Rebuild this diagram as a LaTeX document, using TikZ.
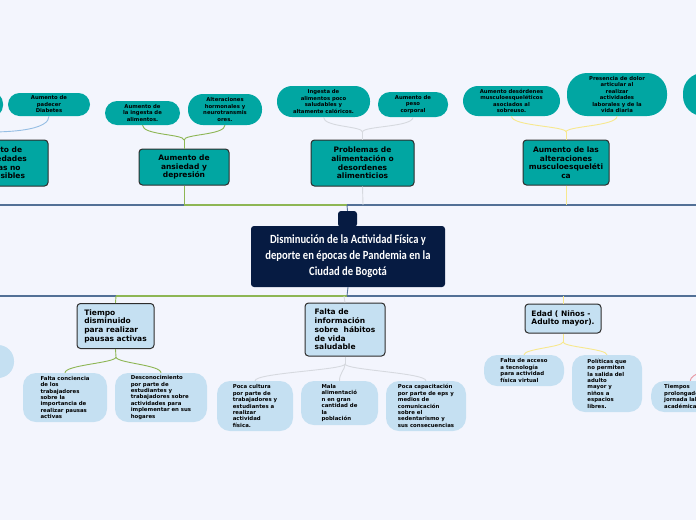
\documentclass[tikz,border=0pt]{standalone}
\usepackage{fontspec}
\newfontfamily\dv{DejaVu Sans}
\newfontfamily\cl[FakeStretch=0.85]{Carlito}
\definecolor{bgc}{RGB}{243,245,253}
\definecolor{teal1}{RGB}{1,166,162}
\definecolor{lblue}{RGB}{197,224,242}
\definecolor{navy}{RGB}{6,27,66}
\definecolor{boxline}{RGB}{45,45,45}
\definecolor{cgreen}{RGB}{141,182,84}
\definecolor{cblue}{RGB}{82,112,150}
\definecolor{cyellow}{RGB}{247,232,142}
\definecolor{cgrey}{RGB}{214,217,223}
\definecolor{clblue}{RGB}{150,190,228}
\definecolor{cpink}{RGB}{232,150,160}
\tikzset{
  tbox/.style={draw=boxline, line width=1pt, fill=teal1, rounded corners=3.5pt, align=center,
    font={\dv\bfseries\fontsize{7.5pt}{8.6pt}\selectfont}, inner sep=1pt},
  bbox/.style={draw=boxline, line width=1pt, fill=lblue, rounded corners=3.5pt, align=left,
    font={\dv\bfseries\fontsize{7.5pt}{8.7pt}\selectfont}, inner sep=1pt},
  tpill/.style={fill=teal1, align=center, font={\dv\bfseries\fontsize{5.3pt}{6.5pt}\selectfont}, inner sep=1pt},
  bpill/.style={fill=lblue, align=left, rounded corners=13pt, font={\dv\bfseries\fontsize{5.4pt}{6.4pt}\selectfont}, inner sep=1pt},
  conn/.style={line width=0.9pt},
  mainln/.style={line width=1.4pt},
}
\begin{document}
\begin{tikzpicture}[x=1pt,y=-1pt]
\useasboundingbox (0,0) rectangle (696,520);
\clip (0,0) rectangle (696,520);
\fill[bgc] (0,0) rectangle (696,520);

% main line coordinates
\coordinate (tL) at (0,205);
\coordinate (tA) at (184,205);
\coordinate (tP) at (363,205);
\coordinate (tC) at (347,205);
\coordinate (tM) at (566,205);
\coordinate (tR) at (696,205);
\coordinate (bL) at (0,296);
\coordinate (bT) at (116,296);
\coordinate (bC) at (347,296);
\coordinate (bF) at (344,296);
\coordinate (bE) at (563,296);
\coordinate (bR) at (696,296);

% ---------- top nodes ----------
\node[tbox, minimum width=103pt, minimum height=46pt] (L1) at (-3.5,163) {Aumento de\\enfermedades\\crónicas no\\transmisibles};
\node[tpill, rounded corners=11.5pt, minimum width=66pt, minimum height=25pt] (L0) at (-30,104.5) {};
\node[tpill, rounded corners=11.5pt, minimum width=82pt, minimum height=23pt] (L1c) at (49,104.5) {Aumento de\\padecer\\Diabetes};

\node[tbox, minimum width=90pt, minimum height=36pt] (A) at (184,167) {Aumento de\\ansiedad y\\depresión};
\node[tpill, rounded corners=12pt, minimum width=75pt, minimum height=24pt] (A1) at (142.5,113) {Aumento de\\la ingesta de\\alimentos.};
\node[tpill, rounded corners=15pt, minimum width=74pt, minimum height=31pt] (A2) at (225,109.5) {Alteraciones\\hormonales y\\neurotransmis\\ores.};

\node[tbox, minimum width=103pt, minimum height=46pt] (P) at (362.5,163) {Problemas de\\alimentación o\\desordenes\\alimenticios};
\node[tpill, rounded corners=15pt, minimum width=93pt, minimum height=31pt] (P1) at (323.5,101.5) {Ingesta de\\alimentos poco\\saludables y\\altamente calóricos.};
\node[tpill, rounded corners=12pt, minimum width=70pt, minimum height=25pt] (P2) at (413,104.5) {Aumento de\\peso\\corporal};

\node[tbox, minimum width=86pt, minimum height=45pt] (M) at (566,162.5) {Aumento de las\\alteraciones\\musculoesqueléti\\ca};
\node[tpill, rounded corners=15pt, minimum width=97pt, minimum height=30pt] (M1) at (511.5,101) {Aumento desórdenes\\musculoesqueléticos\\asociados al\\sobreuso.};
\node[tpill, rounded corners=20pt, minimum width=100pt, minimum height=43pt] (M2) at (617,94.5) {Presencia de dolor\\articular al\\realizar\\actividades\\laborales y de la\\vida diaria};
\node[tpill, rounded corners=20pt, minimum width=74pt, minimum height=43pt] (R) at (720,94.5) {};

% ---------- center ----------
\node[fill=navy, rounded corners=3pt, minimum width=19pt, minimum height=16pt] (tab) at (347.5,219) {};
\node[fill=navy, rounded corners=3pt, minimum width=194pt, minimum height=61pt, align=center, text=white,
  font={\cl\bfseries\fontsize{12.5pt}{16pt}\selectfont}, inner sep=1pt] (C) at (348,256.5)
  {Disminución de la Actividad Física y\\deporte en épocas de Pandemia en la\\Ciudad de Bogotá};

% ---------- bottom nodes ----------
\node[bbox, minimum width=77pt, minimum height=45pt] (T) at (115.5,326) {Tiempo\\disminuido\\para realizar\\pausas activas};
\node[bpill, rounded corners=16pt, minimum width=48pt, minimum height=33pt] (T0) at (-10,361.5) {};
\node[bpill, minimum width=84pt, minimum height=49pt] (T1) at (65,397.5) {Falta conciencia\\de los\\trabajadores\\sobre la\\importancia de\\realizar pausas\\activas};
\node[bpill, minimum width=92pt, minimum height=49pt] (T2) at (161,397.5) {Desconocimiento\\por parte de\\estudiantes y\\trabajadores sobre\\actividades para\\implementar en sus\\hogares};

\node[bbox, minimum width=80pt, minimum height=53pt] (F) at (345,329.5) {Falta de\\información\\sobre\ \ hábitos\\de vida\\saludable};
\node[bpill, minimum width=76pt, minimum height=50pt] (F1) at (255,406) {Poca cultura\\por parte de\\trabajadores y\\estudiantes a\\realizar\\actividad\\física.};
\node[bpill, minimum width=77pt, minimum height=44pt] (F2) at (339.5,403) {Mala\\alimentació\\n en gran\\cantidad de\\la\\población};
\node[bpill, minimum width=80pt, minimum height=50pt] (F3) at (426,406) {Poca capacitación\\por parte de eps y\\medios de\\comunicación\\sobre el\\sedentarismo y\\sus consecuencias};

\node[bbox, minimum width=76pt, minimum height=29pt] (E) at (563,318.5) {Edad ( Niños -\\Adulto mayor).};
\node[bpill, minimum width=80pt, minimum height=31pt] (E1) at (524,370.5) {Falta de acceso\\a tecnología\\para actividad\\física virtual};
\node[bpill, minimum width=70pt, minimum height=57pt] (E2) at (607,383.5) {Políticas que\\no permiten\\la salida del\\adulto\\mayor y\\niños a\\espacios\\libres.};
\node[bpill, minimum width=78pt, minimum height=31pt, anchor=west] (R2) at (651,396.5) {Tiempos\\prolongados de\\jornada laboral o\\académica};

% ---------- main lines ----------
\draw[mainln, cblue] (tL) -- (tA);
\draw[mainln, cgreen] (tA) -- (tC);
\draw[mainln, cblue] (tC) -- (tR);
\draw[mainln, cblue] (bL) -- (bT);
\draw[mainln, cgreen] (bT) -- (bC);
\draw[mainln, cblue] (bC) -- (bR);
\draw[conn, cblue] (tC) -- (tab.north);
\draw[conn, cblue] (C.south) -- (bC);

% ---------- top connectors ----------
\coordinate (lfree) at (-10,132);
\draw[conn, clblue] (L1c.south) .. controls +(0,12) and +(30,0) .. (lfree);

\coordinate (jA) at (184,140);
\draw[conn, cgreen] (A1.south) .. controls +(0,10) and +(0,-6) .. (jA);
\draw[conn, cgreen] (A2.south) .. controls +(0,10) and +(0,-6) .. (jA);
\draw[conn, cgreen] (jA) -- (A.north);
\draw[conn, cgreen] (A.south) -- (tA);

\coordinate (jP) at (362.5,132);
\draw[conn, cgrey] (P1.south) .. controls +(0,10) and +(0,-6) .. (jP);
\draw[conn, cgrey] (P2.south) .. controls +(0,10) and +(0,-6) .. (jP);
\draw[conn, cgrey] (jP) -- (P.north);
\draw[conn, cgrey] (P.south) -- (tP);

\coordinate (jM) at (566,132);
\draw[conn, cyellow] (M1.south) .. controls +(0,10) and +(0,-6) .. (jM);
\draw[conn, cyellow] (M2.south) .. controls +(0,10) and +(0,-6) .. (jM);
\draw[conn, cyellow] (jM) -- (M.north);
\draw[conn, cyellow] (M.south) -- (tM);

% ---------- bottom connectors ----------
\draw[conn, cgreen] (bT) -- (T.north);
\coordinate (jT) at (116,357);
\draw[conn, cgreen] (T.south) -- (jT);
\draw[conn, cgreen] (jT) .. controls +(0,6) and +(0,-8) .. (T1.north);
\draw[conn, cgreen] (jT) .. controls +(0,6) and +(0,-8) .. (T2.north);

\draw[conn, cgrey] (bF) -- (F.north);
\coordinate (jF) at (345,364);
\draw[conn, cgrey] (F.south) -- (jF);
\draw[conn, cgrey] (jF) .. controls +(0,6) and +(0,-8) .. (F1.north);
\draw[conn, cgrey] (jF) .. controls +(0,6) and +(0,-8) .. (F2.north);
\draw[conn, cgrey] (jF) .. controls +(0,6) and +(0,-8) .. (F3.north);

\draw[conn, cyellow] (bE) -- (E.north);
\coordinate (jE) at (563,342);
\draw[conn, cyellow] (E.south) -- (jE);
\draw[conn, cyellow] (jE) .. controls +(0,5) and +(0,-6) .. (E1.north);
\draw[conn, cyellow] (jE) .. controls +(0,5) and +(0,-6) .. (E2.north);

\coordinate (rfree) at (700,372);
\draw[conn, cpink] (R2.north) .. controls +(0,-4) and +(-3,2) .. (rfree);
\end{tikzpicture}
\end{document}
